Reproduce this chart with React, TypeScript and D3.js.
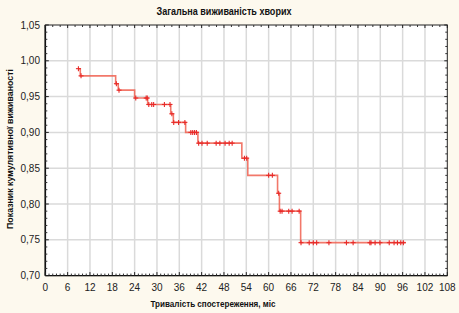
import React from "react";
import * as d3 from "d3";

// Kaplan–Meier steps (time in months, cumulative survival after the step)
const eventTimes = [8.9, 9.4, 18.9, 19.6, 24.0, 27.5, 33.7, 34.4, 37.7, 41.0, 52.8, 54.4, 62.4, 62.9, 68.6];
const survival = [0.989, 0.979, 0.968, 0.959, 0.948, 0.939, 0.926, 0.914, 0.9, 0.885, 0.864, 0.84, 0.815, 0.79, 0.746];
const endTime = 96.8;

// censored observations (months)
const censorTimes = [
  8.9, 9.6, 19.1, 19.8, 24.3, 27.1, 27.4, 27.8, 28.6, 29.1, 32.0, 33.5, 34.0, 34.5, 35.8, 37.5,
  39.1, 39.6, 40.1, 40.6, 41.2, 42.1, 43.5, 45.9, 46.9, 48.3, 49.4, 50.2, 53.5, 54.1, 60.0, 61.0,
  62.7, 63.1, 63.6, 65.4, 66.3, 68.2, 68.7, 70.9, 72.0, 72.9, 76.2, 80.9, 82.7, 87.2, 87.5, 88.6,
  89.9, 92.4, 93.7, 94.6, 95.5, 96.2,
];

const xTicks = [0, 6, 12, 18, 24, 30, 36, 42, 48, 54, 60, 66, 72, 78, 84, 90, 96, 102, 108];
const yTicks = [0.7, 0.75, 0.8, 0.85, 0.9, 0.95, 1.0, 1.05];

const title = "Загальна виживаність хворих";
const xTitle = "Тривалість спостереження, міс";
const yTitle = "Показник кумулятивної виживаності";

const W = 459;
const H = 313;
const L = 45.3, R = 447.3, T = 25, B = 275.6;

export default function App() {
  const x = d3.scaleLinear().domain([0, 108]).range([L, R]);
  const y = d3.scaleLinear().domain([0.7, 1.05]).range([B, T]);

  const pts: [number, number][] = eventTimes.map((t, i) => [t, survival[i]]);
  pts.push([endTime, survival[survival.length - 1]]);
  const line = d3
    .line<[number, number]>()
    .x((d) => x(d[0]))
    .y((d) => y(d[1]))
    .curve(d3.curveStepAfter);

  const levelAt = (t: number) => {
    const i = d3.bisectRight(eventTimes, t) - 1;
    return survival[Math.max(0, i)];
  };

  const fmt = (v: number) => v.toFixed(2).replace(".", ",");
  const minorX = d3.range(1, 108).filter((v) => v % 6 !== 0);
  const topMinor = d3.range(2, 108, 2).filter((v) => v % 6 !== 0);
  const minorY = d3.range(71, 105).map((v) => v / 100).filter((v) => Math.round(v * 100) % 5 !== 0);

  const font = "'Liberation Sans', Arial, sans-serif";

  return (
    <svg
      width={W}
      height={H}
      style={{ position: "absolute", left: 0, top: 0, background: "#fdf9ee" }}
      fontFamily={font}
    >
      <rect x={0} y={0} width={W} height={H} fill="#fdf9ee" />
      <rect x={L} y={T} width={R - L} height={B - T} fill="#ffffff" />
      {/* grid */}
      {xTicks.slice(1, -1).map((t) => (
        <line key={"gx" + t} x1={x(t)} x2={x(t)} y1={T} y2={B} stroke="#dadada" strokeWidth={1.5} />
      ))}
      {yTicks.slice(1, -1).map((v) => (
        <line key={"gy" + v} x1={L} x2={R} y1={y(v)} y2={y(v)} stroke="#dadada" strokeWidth={1.5} />
      ))}
      {/* frame */}
      <rect x={L} y={T} width={R - L} height={B - T} fill="none" stroke="#222" strokeWidth={1} />
      <line x1={L} x2={L} y1={T} y2={B} stroke="#111" strokeWidth={1.6} />
      <line x1={L} x2={R} y1={B} y2={B} stroke="#111" strokeWidth={1.4} />
      {/* ticks */}
      {xTicks.map((t) => (
        <g key={"tx" + t}>
          <line x1={x(t)} x2={x(t)} y1={B} y2={B - 3.5} stroke="#222" />
          <line x1={x(t)} x2={x(t)} y1={T} y2={T + 3} stroke="#222" />
        </g>
      ))}
      {minorX.map((t) => (
        <line key={"mx" + t} x1={x(t)} x2={x(t)} y1={B} y2={B - 2} stroke="#333" />
      ))}
      {topMinor.map((t) => (
        <line key={"tm" + t} x1={x(t)} x2={x(t)} y1={T} y2={T + 2} stroke="#333" />
      ))}
      {yTicks.map((v) => (
        <g key={"ty" + v}>
          <line x1={L} x2={L + 3.5} y1={y(v)} y2={y(v)} stroke="#222" />
          <line x1={R} x2={R - 3} y1={y(v)} y2={y(v)} stroke="#222" />
        </g>
      ))}
      {minorY.map((v) => (
        <g key={"my" + v}>
          <line x1={L} x2={L + 2} y1={y(v)} y2={y(v)} stroke="#333" />
          <line x1={R} x2={R - 2} y1={y(v)} y2={y(v)} stroke="#333" />
        </g>
      ))}
      {/* tick labels */}
      {yTicks.map((v) => (
        <text key={"ly" + v} x={40} y={y(v)} dy="0.36em" textAnchor="end" fontSize={10} fill="#222">
          {fmt(v)}
        </text>
      ))}
      {xTicks.map((t) => (
        <text key={"lx" + t} x={x(t)} y={290.5} textAnchor="middle" fontSize={10} fill="#222">
          {t}
        </text>
      ))}
      {/* curve */}
      <path d={line(pts) || ""} fill="none" stroke="#f06050" strokeWidth={1.6} strokeOpacity={0.85} />
      {censorTimes.map((t, i) => {
        const cx = x(t);
        const cy = y(levelAt(t));
        return (
          <g key={"c" + i} stroke="#e82a28" strokeWidth={1.1}>
            <line x1={cx - 2.5} x2={cx + 2.5} y1={cy} y2={cy} />
            <line x1={cx} x2={cx} y1={cy - 2.5} y2={cy + 2.5} />
          </g>
        );
      })}
      {/* titles */}
      <text
        x={224}
        y={15}
        textAnchor="middle"
        fontSize={10}
        fontWeight="bold"
        fill="#111"
        textLength={135}
        lengthAdjust="spacingAndGlyphs"
      >
        {title}
      </text>
      <text
        x={213}
        y={306.5}
        textAnchor="middle"
        fontSize={9.5}
        fontWeight="bold"
        fill="#111"
        textLength={125}
        lengthAdjust="spacingAndGlyphs"
      >
        {xTitle}
      </text>
      <text
        transform={`translate(12.5,149) rotate(-90)`}
        textAnchor="middle"
        fontSize={9.5}
        fontWeight="bold"
        fill="#111"
        textLength={160}
        lengthAdjust="spacingAndGlyphs"
      >
        {yTitle}
      </text>
    </svg>
  );
}
